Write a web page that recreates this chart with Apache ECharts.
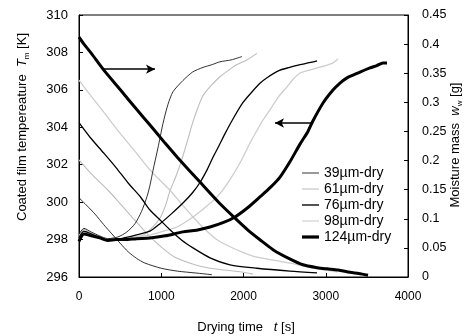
<!DOCTYPE html>
<html>
<head>
<meta charset="utf-8">
<script src="https://cdn.jsdelivr.net/npm/echarts@6/dist/echarts.min.js"></script>
<style>
html,body{margin:0;padding:0;background:#fff;}
#chart{width:470px;height:336px;}
</style>
</head>
<body>
<div id="chart"></div>
<script>
// ---- Data ----
const seriesNames = ['39µm-dry', '61µm-dry', '76µm-dry', '98µm-dry', '124µm-dry'];
const xTicks = [0, 1000, 2000, 3000, 4000];

// Temperature curves (left axis, K)
const tT39 = [0, 60, 150, 250, 350, 474, 580, 681, 760, 827, 863, 900, 960, 1021, 1080, 1143, 1264, 1380, 1508, 1620, 1714, 1850, 1982];
const T39  = [298.3, 298.6, 298.4, 298.2, 298.05, 298.14, 298.4, 298.85, 299.5, 300.3, 300.9, 301.7, 302.9, 304.2, 305.2, 305.9, 306.5, 306.95, 307.2, 307.35, 307.5, 307.6, 307.78];

const tT61 = [0, 60, 150, 250, 350, 450, 560, 660, 766, 880, 985, 1050, 1106, 1180, 1252, 1320, 1386, 1450, 1508, 1600, 1714, 1820, 1921, 2040, 2164];
const T61  = [298.2, 298.55, 298.35, 298.15, 298.0, 298.0, 298.05, 298.1, 298.2, 298.6, 299.15, 299.8, 300.6, 301.4, 302.3, 303.3, 304.3, 305.1, 305.7, 306.2, 306.7, 307.05, 307.35, 307.6, 307.95];

const tT76 = [0, 60, 150, 250, 350, 450, 560, 700, 863, 985, 1130, 1264, 1380, 1471, 1560, 1629, 1700, 1780, 1860, 1990, 2115, 2200, 2286, 2444, 2560, 2687, 2800, 2894];
const T76  = [298.1, 298.45, 298.3, 298.1, 297.95, 298.0, 298.1, 298.25, 298.45, 298.85, 299.4, 299.95, 300.5, 301.05, 301.75, 302.4, 303.0, 303.7, 304.35, 305.3, 305.95, 306.35, 306.65, 307.05, 307.2, 307.35, 307.45, 307.55];

const tT98 = [0, 60, 150, 250, 350, 450, 560, 700, 863, 1030, 1191, 1386, 1530, 1678, 1820, 1957, 2079, 2160, 2237, 2322, 2420, 2529, 2600, 2687, 2800, 2894, 3000, 3088, 3149];
const T98  = [298.0, 298.4, 298.3, 298.1, 298.0, 297.95, 298.05, 298.15, 298.24, 298.45, 298.67, 299.21, 299.7, 300.28, 301.1, 302.09, 303.16, 303.8, 304.39, 304.93, 305.6, 306.16, 306.55, 306.9, 307.05, 307.17, 307.3, 307.44, 307.65];

const tT124 = [0, 60, 150, 250, 350, 450, 560, 700, 863, 1050, 1264, 1430, 1593, 1750, 1897, 2050, 2200, 2330, 2444, 2570, 2687, 2780, 2845, 2967, 3088, 3170, 3258, 3340, 3416, 3538, 3620, 3696, 3745];
const T124  = [297.9, 298.3, 298.2, 298.1, 297.95, 298.0, 298.0, 298.05, 298.08, 298.2, 298.41, 298.5, 298.67, 298.9, 299.21, 299.7, 300.28, 300.8, 301.34, 302.2, 303.1, 303.75, 304.35, 305.3, 305.99, 306.35, 306.64, 306.8, 306.95, 307.17, 307.3, 307.44, 307.44];

// Moisture mass curves (right axis, g)
const tW39 = [0, 100, 195, 300, 400, 500, 600, 700, 800, 1000, 1200, 1410, 1617];
const W39  = [0.136, 0.122, 0.108, 0.090, 0.074, 0.058, 0.043, 0.032, 0.024, 0.015, 0.010, 0.007, 0.004];

const tW61 = [0, 150, 353, 500, 644, 780, 888, 1030, 1167, 1410, 1593, 1957, 2115];
const W61  = [0.201, 0.177, 0.149, 0.126, 0.103, 0.082, 0.066, 0.048, 0.034, 0.021, 0.015, 0.009, 0.005];

const tW76 = [0, 134, 300, 450, 600, 750, 863, 1000, 1106, 1250, 1386, 1593, 1836, 2164, 2565, 2894];
const W76  = [0.265, 0.240, 0.213, 0.188, 0.161, 0.137, 0.115, 0.096, 0.081, 0.063, 0.050, 0.033, 0.021, 0.015, 0.010, 0.007];

const tW98 = [0, 140, 280, 498, 657, 863, 1000, 1106, 1250, 1386, 1530, 1678, 1836, 2000, 2164, 2400, 2565, 2869, 3137];
const W98  = [0.338, 0.312, 0.287, 0.247, 0.220, 0.184, 0.164, 0.149, 0.125, 0.103, 0.082, 0.064, 0.052, 0.042, 0.034, 0.028, 0.024, 0.015, 0.009];

const tW124 = [0, 60, 150, 292, 500, 700, 863, 1046, 1200, 1471, 1700, 1897, 2050, 2200, 2359, 2550, 2723, 2900, 3015, 3150, 3295, 3400, 3514];
const W124  = [0.412, 0.400, 0.384, 0.357, 0.322, 0.288, 0.261, 0.230, 0.205, 0.163, 0.128, 0.101, 0.081, 0.064, 0.047, 0.032, 0.021, 0.016, 0.014, 0.012, 0.008, 0.006, 0.003];

// Annotation arrows (data coordinates)
const arrowMoist = [[292, 0.357], [924, 0.357]];   // points right -> moisture axis
const arrowTemp  = [[2845, 304.23], [2383, 304.23]]; // points left -> temperature axis

// ---- Build chart ----
const zip = (a, b) => a.map((v, i) => [v, b[i]]);
const styles = {
  '39µm-dry':  {color: '#1a1a1a', width: 0.9, legend: '#555555', icon: 'path://M0,0H100V7H0Z'},
  '61µm-dry':  {color: '#bdbdbd', width: 1.1, legend: '#c4c4c4', icon: 'path://M0,0H100V7H0Z'},
  '76µm-dry':  {color: '#000000', width: 1.3, legend: '#000000', icon: 'path://M0,0H100V8H0Z'},
  '98µm-dry':  {color: '#cdcdcd', width: 1.3, legend: '#d6d6d6', icon: 'path://M0,0H100V8H0Z'},
  '124µm-dry': {color: '#000000', width: 3,   legend: '#000000', icon: 'path://M0,0H100V19H0Z'}
};
const tempData = {
  '39µm-dry': zip(tT39, T39), '61µm-dry': zip(tT61, T61), '76µm-dry': zip(tT76, T76),
  '98µm-dry': zip(tT98, T98), '124µm-dry': zip(tT124, T124)
};
const moistData = {
  '39µm-dry': zip(tW39, W39), '61µm-dry': zip(tW61, W61), '76µm-dry': zip(tW76, W76),
  '98µm-dry': zip(tW98, W98), '124µm-dry': zip(tW124, W124)
};

const FONT = 'Liberation Sans, Arial, sans-serif';
const series = [];
const drawOrder = ['61µm-dry', '98µm-dry', '39µm-dry', '76µm-dry', '124µm-dry'];
drawOrder.forEach(name => {
  const st = styles[name];
  const common = {
    name, type: 'line', showSymbol: false, symbol: 'none', smooth: 0.25,
    color: st.color, lineStyle: {color: st.color, width: st.width},
    animation: false, silent: true, z: name === '124µm-dry' ? 5 : 3
  };
  const tS = Object.assign({}, common, {yAxisIndex: 0, data: tempData[name]});
  const mS = Object.assign({}, common, {yAxisIndex: 1, data: moistData[name]});
  if (name === '124µm-dry') {
    const ml = (pts) => ({
      silent: true, symbol: ['none', 'arrow'], symbolSize: [7, 9],
      lineStyle: {color: '#000', width: 1.6, type: 'solid'},
      label: {show: false}, emphasis: {disabled: true},
      data: [[{coord: pts[0]}, {coord: pts[1]}]]
    });
    tS.markLine = ml(arrowTemp);
    mS.markLine = ml(arrowMoist);
  }
  series.push(tS, mS);
});

const chart = echarts.init(document.getElementById('chart'), null, {renderer: 'canvas'});
chart.setOption({
  animation: false,
  backgroundColor: '#fff',
  textStyle: {fontFamily: FONT, color: '#000'},
  grid: {left: 79, right: 62, top: 15, bottom: 59, show: true, borderColor: '#000', borderWidth: 1, backgroundColor: 'transparent'},
  legend: {
    data: seriesNames.map(n => ({name: n, icon: styles[n].icon, itemStyle: {color: styles[n].legend}})),
    orient: 'vertical', left: 302, top: 166,
    itemWidth: 17, itemHeight: 14, itemGap: 2, padding: 0,
    textStyle: {fontFamily: FONT, fontSize: 14, color: '#000'},
    selectedMode: false
  },
  xAxis: {
    type: 'value', min: xTicks[0], max: xTicks[xTicks.length - 1], interval: 1000,
    axisLine: {lineStyle: {color: '#000', width: 1}},
    axisTick: {inside: true, length: 4, lineStyle: {color: '#000'}},
    axisLabel: {fontSize: 12, color: '#000', margin: 14, fontFamily: FONT, formatter: v => String(v)},
    splitLine: {show: false}
  },
  yAxis: [
    {
      type: 'value', min: 296, max: 310, interval: 2, position: 'left',
      axisLine: {show: true, lineStyle: {color: '#000', width: 1}},
      axisTick: {show: true, inside: true, length: 4, lineStyle: {color: '#000'}},
      axisLabel: {fontSize: 13, color: '#000', margin: 11, fontFamily: FONT, formatter: v => String(v)},
      splitLine: {show: false}
    },
    {
      type: 'value', min: 0, max: 0.45, interval: 0.05, position: 'right',
      axisLine: {show: true, lineStyle: {color: '#000', width: 1}},
      axisTick: {show: true, inside: true, length: 4, lineStyle: {color: '#000'}},
      axisLabel: {fontSize: 12.5, color: '#000', margin: 14, fontFamily: FONT,
        formatter: v => String(Math.round(v * 100) / 100)},
      splitLine: {show: false}
    }
  ],
  graphic: [
    {
      type: 'text', x: 22, y: 127, rotation: Math.PI / 2, silent: true,
      style: {
        text: '{a|Coated film tempereature  }{i|T}{s|m}{a| [K]}',
        align: 'center', verticalAlign: 'middle', fill: '#000', fontFamily: FONT, fontSize: 13,
        rich: {
          a: {fontSize: 13, fontFamily: FONT, lineHeight: 18, verticalAlign: 'middle'},
          i: {fontSize: 13, fontFamily: FONT, fontStyle: 'italic', lineHeight: 18, verticalAlign: 'middle'},
          s: {fontSize: 8, fontFamily: FONT, lineHeight: 18, verticalAlign: 'bottom'}
        }
      }
    },
    {
      type: 'text', x: 455, y: 145, rotation: Math.PI / 2, silent: true,
      style: {
        text: '{a|Moisture mass  }{i|w}{s|w}{a| [g]}',
        align: 'center', verticalAlign: 'middle', fill: '#000', fontFamily: FONT, fontSize: 13,
        rich: {
          a: {fontSize: 13, fontFamily: FONT, lineHeight: 18, verticalAlign: 'middle'},
          i: {fontSize: 13, fontFamily: FONT, fontStyle: 'italic', lineHeight: 18, verticalAlign: 'middle'},
          s: {fontSize: 8, fontFamily: FONT, lineHeight: 18, verticalAlign: 'bottom'}
        }
      }
    },
    {
      type: 'text', x: 246, y: 327, silent: true,
      style: {
        text: '{a|Drying time   }{i|t}{a| [s]}',
        align: 'center', verticalAlign: 'middle', fill: '#000', fontFamily: FONT, fontSize: 13,
        rich: {
          a: {fontSize: 13, fontFamily: FONT},
          i: {fontSize: 13, fontFamily: FONT, fontStyle: 'italic'}
        }
      }
    }
  ],
  series
});
</script>
</body>
</html>
